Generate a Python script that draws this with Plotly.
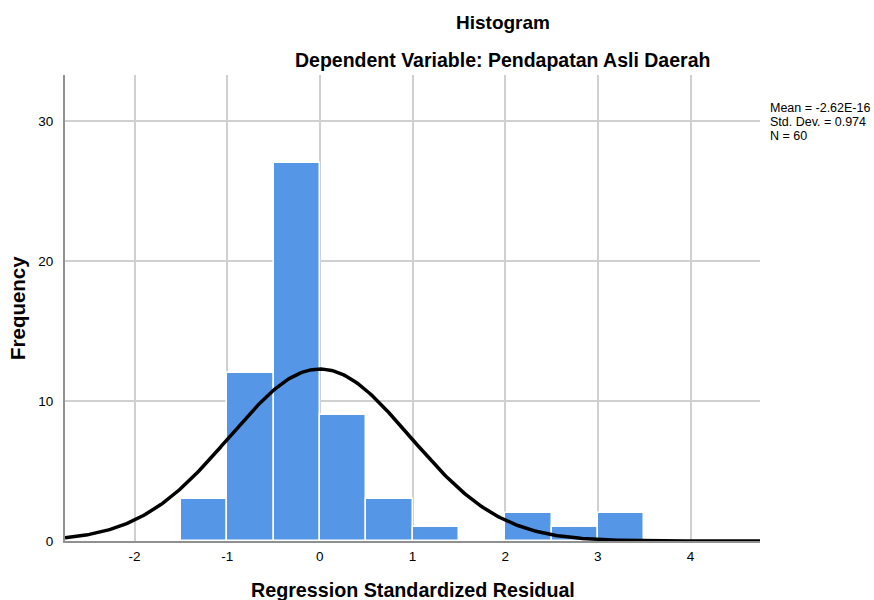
import numpy as np
import plotly.graph_objects as go

# Histogram bins (width 0.5) and counts
bin_left = [-1.5, -1.0, -0.5, 0.0, 0.5, 1.0, 1.5, 2.0, 2.5, 3.0]
counts = [3, 12, 27, 9, 3, 1, 0, 2, 1, 2]
bin_width = 0.5

# Summary statistics shown on the chart
mean_val = -2.62e-16
std_dev = 0.974
n_obs = 60
stats_lines = ["Mean = -2.62E-16", "Std. Dev. = 0.974", "N = 60"]

x_ticks = [-2, -1, 0, 1, 2, 3, 4]
y_ticks = [0, 10, 20, 30]

bin_centers = [b + bin_width / 2 for b in bin_left]

# Fitted normal curve from the stated mean / sd / N
xs = np.linspace(-2.75, 4.75, 400)
ys = n_obs * bin_width * np.exp(-0.5 * ((xs - mean_val) / std_dev) ** 2) / (std_dev * np.sqrt(2 * np.pi))

fig = go.Figure()
fig.add_trace(go.Bar(
    x=bin_centers, y=counts, width=bin_width,
    marker=dict(color="#5596E6", line=dict(color="white", width=1.5)),
    hoverinfo="x+y", showlegend=False,
))
fig.add_trace(go.Scatter(
    x=xs, y=ys, mode="lines", line=dict(color="black", width=3.5),
    showlegend=False, hoverinfo="skip",
))

font_family = "Liberation Sans, Arial, sans-serif"
PH = 466.0  # plot height in px

annotations = [
    dict(text="<b>Histogram</b>", x=0.630, y=(541 - 22) / PH, xref="paper", yref="paper",
         showarrow=False, font=dict(size=19), xanchor="center", yanchor="middle"),
    dict(text="<b>Dependent Variable: Pendapatan Asli Daerah</b>", x=0.630, y=(541 - 60) / PH,
         xref="paper", yref="paper", showarrow=False, font=dict(size=19.5),
         xanchor="center", yanchor="middle"),
    dict(text="<b>Frequency</b>", x=-48 / 695, y=0.5, xref="paper", yref="paper",
         showarrow=False, font=dict(size=20.5), textangle=-90,
         xanchor="center", yanchor="middle"),
    dict(text="<b>Regression Standardized Residual</b>", x=0.5, y=(541 - 590) / PH,
         xref="paper", yref="paper", showarrow=False, font=dict(size=19.7),
         xanchor="center", yanchor="middle"),
]
for i, line in enumerate(stats_lines):
    annotations.append(dict(
        text=line, x=(768 - 65) / 695, y=(541 - (108 + 14 * i)) / PH,
        xref="paper", yref="paper", showarrow=False, font=dict(size=12.5),
        xanchor="left", yanchor="middle", align="left"))

fig.update_layout(
    width=874, height=600,
    margin=dict(l=65, r=114, t=75, b=59),
    paper_bgcolor="white", plot_bgcolor="white",
    font=dict(family=font_family, color="black", size=12),
    bargap=0,
    xaxis=dict(
        range=[-2.75, 4.75], tickvals=x_ticks, ticktext=[str(v) for v in x_ticks],
        showgrid=True, gridcolor="#D0D0D0", gridwidth=1.5,
        showline=True, linecolor="#909090", linewidth=2,
        zeroline=False, ticks="", tickfont=dict(size=13.5), ticklabelstandoff=2,
    ),
    yaxis=dict(
        range=[0, 33.3], tickvals=y_ticks, ticktext=[str(v) for v in y_ticks],
        showgrid=True, gridcolor="#D0D0D0", gridwidth=1.5,
        showline=True, linecolor="#909090", linewidth=2,
        zeroline=False, ticks="", tickfont=dict(size=13.5), ticklabelstandoff=7,
    ),
    annotations=annotations,
)

fig.write_html("out.html", config={"displayModeBar": False},
               post_script="document.body.style.margin='0';")
